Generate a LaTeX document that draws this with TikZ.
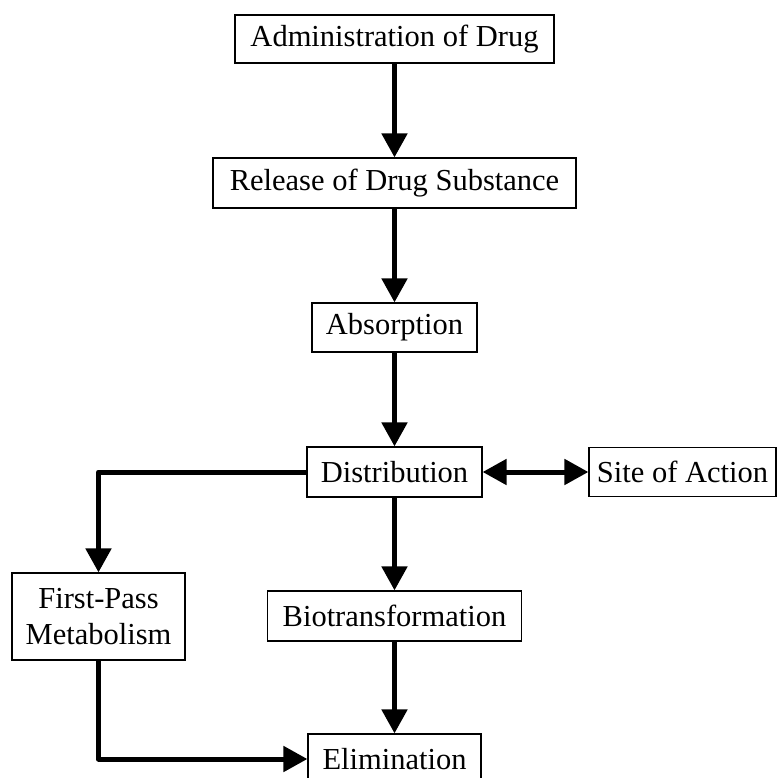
\documentclass[tikz,border=0pt]{standalone}
\usepackage{fontspec}
\setmainfont{Liberation Serif}
\usetikzlibrary{arrows.meta}
\begin{document}
\begin{tikzpicture}[x=1pt,y=-1pt,
  box/.style={draw=black, line width=1.2pt, inner sep=0pt, align=center,
    font=\fontsize{30.5}{36}\selectfont},
  arr/.style={line width=5pt, line join=round, -{Triangle[length=24pt,width=25pt]}},
  darr/.style={line width=5pt, {Triangle[length=24pt,width=25pt]}-{Triangle[length=24pt,width=25pt]}}]
\useasboundingbox (0,0) rectangle (778,778);
\node[box, minimum width=319pt, minimum height=48pt] (admin) at (394.5,39) {Administration of Drug};
\node[box, minimum width=363pt, minimum height=50pt] (release) at (394.5,183) {Release of Drug Substance};
\node[box, minimum width=165pt, minimum height=49pt] (absorption) at (394.5,327.5) {Absorption};
\node[box, minimum width=175pt, minimum height=50pt] (distribution) at (394.5,472) {Distribution};
\node[box, minimum width=187pt, minimum height=49pt] (site) at (682.5,472) {Site of Action};
\node[box, minimum width=173pt, minimum height=87pt] (firstpass) at (98.5,616.5) {First-Pass\\Metabolism};
\node[box, minimum width=254pt, minimum height=50pt] (biotrans) at (394.5,616) {Biotransformation};
\node[box, minimum width=173pt, minimum height=50pt] (elimination) at (394.5,759) {Elimination};
\draw[arr] (admin) -- (release);
\draw[arr] (release) -- (absorption);
\draw[arr] (absorption) -- (distribution);
\draw[darr] (distribution) -- (site);
\draw[arr] (distribution) -- (biotrans);
\draw[arr] (biotrans) -- (elimination);
\draw[arr] (distribution.west) -| (firstpass.north);
\draw[arr] (firstpass.south) |- (elimination.west);
\end{tikzpicture}
\end{document}
